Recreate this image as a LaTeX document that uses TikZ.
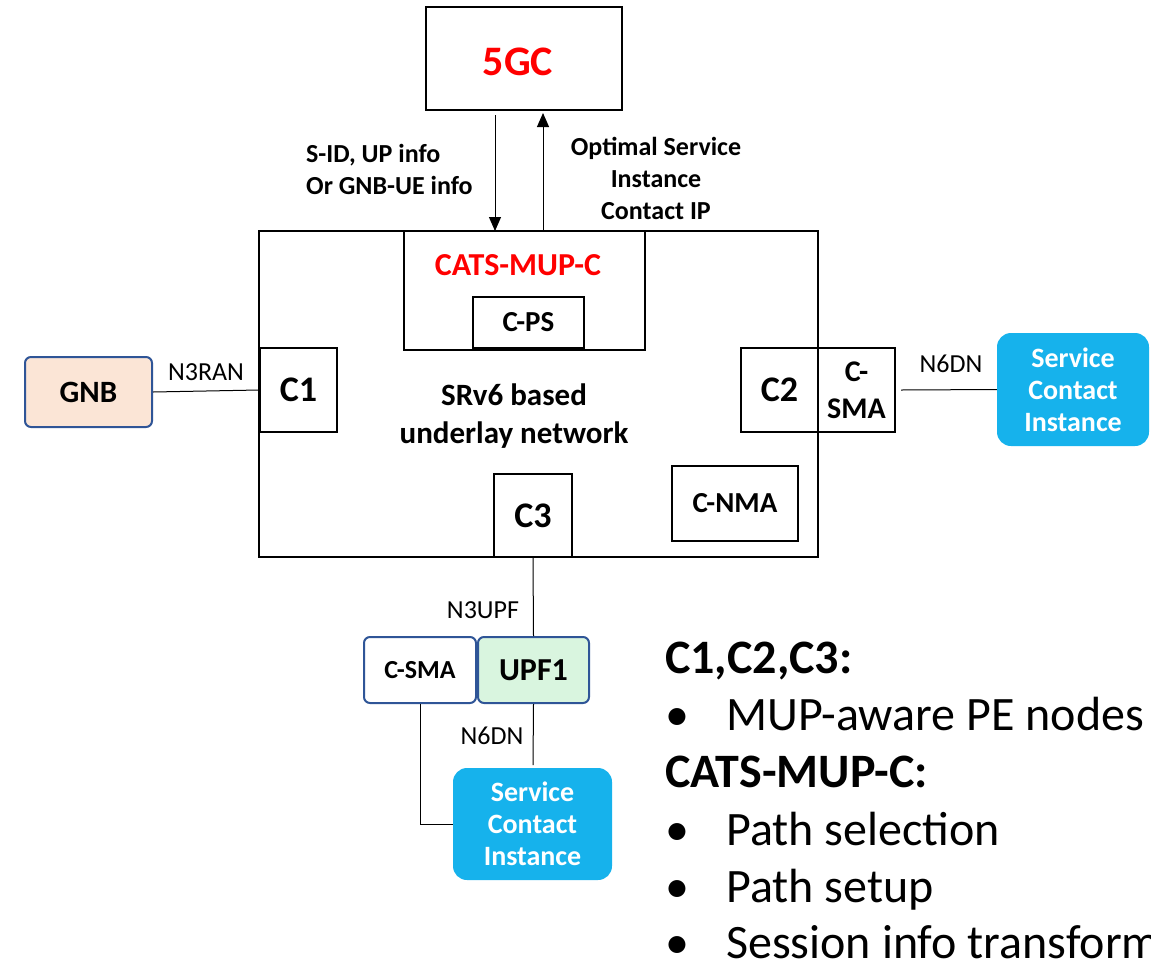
\documentclass[tikz,border=0pt]{standalone}
\usepackage{fontspec}
\setmainfont{Carlito}
\usetikzlibrary{arrows.meta}
\definecolor{cyanbox}{HTML}{16B2EC}
\definecolor{peach}{HTML}{FBE5D6}
\definecolor{mint}{HTML}{D9F5DF}
\definecolor{blueedge}{HTML}{2F5597}
\definecolor{redtxt}{HTML}{FF0000}
\tikzset{
  sq/.style={draw=black, line width=2pt, inner sep=0pt, align=center, font=\fontsize{36}{40}\selectfont\bfseries},
  rbox/.style={draw=blueedge, line width=2pt, rounded corners=6pt, inner sep=0pt, align=center},
  svc/.style={fill=cyanbox, draw=none, rounded corners=14pt, inner sep=0pt, align=center, text=white, font=\fontsize{28}{32}\selectfont\bfseries},
  conn/.style={draw=black, line width=1pt},
  lbl/.style={font=\fontsize{26}{30}\selectfont, inner sep=0pt},
  blbl/.style={font=\fontsize{26}{32}\selectfont\bfseries, inner sep=0pt},
  big/.style={font=\fontsize{48}{56}\selectfont, inner sep=0pt, anchor=base west},
}
\begin{document}
\begin{tikzpicture}[x=1pt,y=-1pt]
\useasboundingbox (0,0) rectangle (1151,962);
\clip (0,0) rectangle (1151,962);
% 5GC
\node[sq, minimum width=196pt, minimum height=103pt] (fivegc) at (524,58.5) {};
\node[font=\fontsize{42}{46}\selectfont\bfseries, text=redtxt, inner sep=0pt] (fivegclbl) at (518,62) {5GC};
% big box
\node[draw=black, line width=2pt, minimum width=559pt, minimum height=326pt, inner sep=0pt] (net) at (538.5,394) {};
\node[font=\fontsize{31}{38}\selectfont\bfseries, align=center, inner sep=0pt] (srv6) at (514,416) {SRv6 based\\underlay network};
% CATS-MUP-C
\node[draw=black, line width=2pt, minimum width=241pt, minimum height=119pt, inner sep=0pt] (cats) at (524.5,290.5) {};
\node[font=\fontsize{32}{36}\selectfont\bfseries, text=redtxt, inner sep=0pt] (catslbl) at (518,265) {CATS-MUP-C};
\node[sq, minimum width=111pt, minimum height=51pt, font=\fontsize{29}{32}\selectfont\bfseries] (cps) at (528.5,322.5) {C-PS};
% C1 C2 C3 CNMA
\node[sq, minimum width=77pt, minimum height=84pt] (c1) at (298.5,390) {C1};
\node[sq, minimum width=77pt, minimum height=84pt] (c2) at (779.5,390) {C2};
\node[sq, minimum width=77pt, minimum height=84pt, font=\fontsize{30}{37}\selectfont\bfseries] (csma1) at (856.5,390) {C-\\SMA};
\node[sq, minimum width=78pt, minimum height=83pt] (c3) at (533,515.5) {C3};
\node[sq, minimum width=126pt, minimum height=75pt, font=\fontsize{29}{32}\selectfont\bfseries] (cnma) at (735,503.5) {C-NMA};
% GNB
\node[rbox, fill=peach, minimum width=127pt, minimum height=70pt, font=\fontsize{31}{34}\selectfont\bfseries] (gnb) at (88.5,392) {GNB};
% right service
\node[svc, minimum width=152pt, minimum height=113pt] (svc1) at (1073,389.5) {Service\\Contact\\Instance};
% bottom
\node[rbox, fill=white, minimum width=112pt, minimum height=66pt, font=\fontsize{26}{30}\selectfont\bfseries] (csma2) at (420,670) {C-SMA};
\node[rbox, fill=mint, minimum width=111pt, minimum height=66pt, font=\fontsize{32}{36}\selectfont\bfseries] (upf) at (533.5,670) {UPF1};
\node[svc, minimum width=159pt, minimum height=112pt] (svc2) at (532.5,824) {Service\\Contact\\Instance};
% connectors
\draw[conn] (gnb.east) -- (c1.west);
\node[lbl] (n3ran) at (206,372) {N3RAN};
\coordinate (n6s) at (901,390);
\draw[conn] (n6s) -- (svc1.west);
\node[lbl] (n6dn1) at (951,364) {N6DN};
\draw[conn] (c3.south) -- (upf.north);
\node[lbl] (n3upf) at (483,610) {N3UPF};
\coordinate (upfe) at (533,765);
\draw[conn] (upf.south) -- (upfe);
\node[lbl] (n6dn2) at (492,736) {N6DN};
\draw[conn] (csma2.south) |- (svc2.west);
% arrows
\coordinate (da) at (495,115);
\coordinate (db) at (495,231);
\coordinate (ua) at (543,231);
\coordinate (ub) at (543,113);
\draw[conn, -{Triangle[length=14pt,width=12pt]}] (da) -- (db);
\draw[conn, -{Triangle[length=14pt,width=12pt]}] (ua) -- (ub);
\node[blbl, align=left, anchor=west] (lblL) at (306,169) {S-ID, UP info\\Or GNB-UE info};
\node[blbl, align=center] (lblR) at (656,178) {Optimal Service\\Instance\\Contact IP};
% right text
\node[big, font=\fontsize{48}{56}\selectfont\bfseries] (t1) at (665,673) {C1,C2,C3:};
\node[big] (b1) at (665,730) {\textbullet};
\node[big] (t2) at (726,730) {MUP-aware PE nodes};
\node[big, font=\fontsize{48}{56}\selectfont\bfseries] (t3) at (665,787) {CATS-MUP-C:};
\node[big] (b2) at (665,845) {\textbullet};
\node[big] (t4) at (726,845) {Path selection};
\node[big] (b3) at (665,902) {\textbullet};
\node[big] (t5) at (726,902) {Path setup};
\node[big] (b4) at (665,958) {\textbullet};
\node[big] (t6) at (726,958) {Session info transformation};
\end{tikzpicture}
\end{document}
